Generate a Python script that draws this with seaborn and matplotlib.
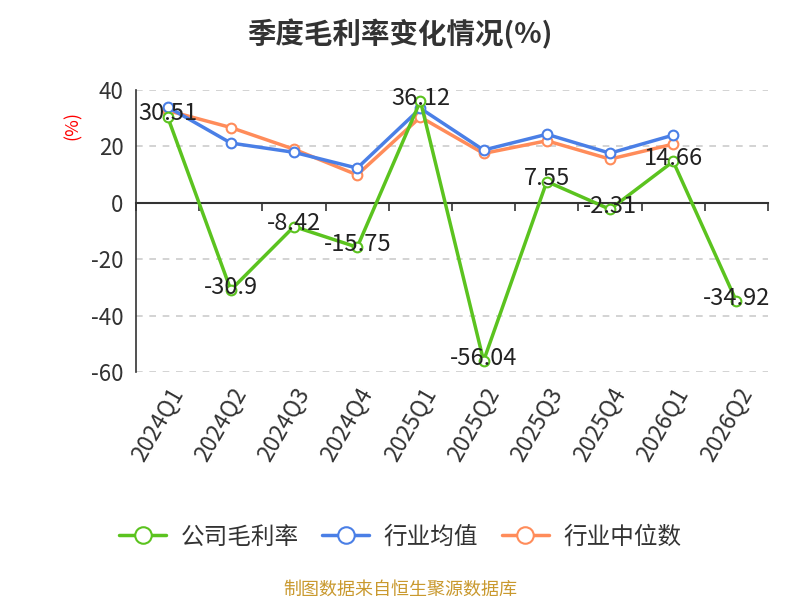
import numpy as np
import pandas as pd
import matplotlib
matplotlib.use("Agg")
import matplotlib.pyplot as plt
import seaborn as sns

# quarterly gross margin data (%)
quarters = ['2024Q1', '2024Q2', '2024Q3', '2024Q4', '2025Q1',
            '2025Q2', '2025Q3', '2025Q4', '2026Q1', '2026Q2']
company = [30.51, -30.9, -8.42, -15.75, 36.12, -56.04, 7.55, -2.31, 14.66, -34.92]
ind_mean = [34.0, 21.2, 17.9, 12.3, 33.5, 18.7, 24.3, 17.6, 24.0, np.nan]
ind_median = [32.7, 26.7, 19.0, 9.9, 30.4, 17.5, 22.0, 15.5, 20.8, np.nan]
names = ['公司毛利率', '行业均值', '行业中位数']
colors = ['#5bc31f', '#4a7fe6', '#ff8c5a']
yticks = [-60, -40, -20, 0, 20, 40]

sns.set_style("white")
plt.rcParams['font.family'] = ['Noto Sans CJK SC', 'DejaVu Sans']

fig = plt.figure(figsize=(8, 6), dpi=100)
ax = fig.add_axes([0.17, 0.38, 0.79, 0.47])

x = np.arange(len(quarters))
series = [(company, names[0], colors[0]),
          (ind_median, names[2], colors[2]),
          (ind_mean, names[1], colors[1])]
for vals, name, col in series:
    df = pd.DataFrame({'x': x, 'y': vals}).dropna()
    sns.lineplot(data=df, x='x', y='y', ax=ax, color=col, lw=2.5,
                 marker='o', markersize=7, markerfacecolor='white',
                 markeredgecolor=col, markeredgewidth=1.5, label=name,
                 zorder=3 if name == names[0] else 2)

# labels for company values
for xi, v in zip(x, company):
    ax.annotate(f"{v:g}", (xi, v), xytext=(0, 2), textcoords='offset points',
                ha='center', va='center', fontsize=17, color='#222222', zorder=5)

ax.set_xlim(-0.5, len(quarters) - 0.5)
ax.set_ylim(-60, 40)
ax.set_yticks(yticks)
ax.set_yticklabels([str(t) for t in yticks], fontsize=16, color='#333333')
ax.set_xticks(x)
ax.set_xticklabels(quarters, rotation=60, ha='right', rotation_mode='anchor',
                   fontsize=16.5, color='#333333')
ax.tick_params(axis='x', length=0, pad=8)
ax.tick_params(axis='y', length=5, width=1.2, color='#333333', pad=4)
ax.set_xlabel('')
ax.set_ylabel('')

for yt in yticks:
    if yt != 0:
        ax.axhline(yt, color='#cccccc', lw=1.2, ls=(0, (4, 4)), zorder=0)

for s in ['top', 'right', 'bottom']:
    ax.spines[s].set_visible(False)
ax.spines['left'].set_color('#333333')
ax.spines['left'].set_linewidth(1.2)

# zero axis line with ticks at category boundaries
zax = ax.secondary_xaxis(0, transform=ax.transData)
zax.set_xticks(np.arange(len(quarters) + 1) - 0.5)
zax.set_xticklabels([])
zax.tick_params(length=6, width=1.2, color='#333333', direction='out')
zax.spines['bottom'].set_color('#333333')
zax.spines['bottom'].set_linewidth(1.5)

ax.get_legend().remove()
handles, labels = ax.get_legend_handles_labels()
order = [labels.index(n) for n in names]
fig.legend([handles[i] for i in order], [labels[i] for i in order],
           loc='center', bbox_to_anchor=(0.5, 0.105), ncol=3, frameon=False,
           fontsize=17, markerscale=1.7, handlelength=2.0, columnspacing=1.0,
           handletextpad=0.6, labelcolor='#333333')

fig.suptitle('季度毛利率变化情况(%)', fontsize=20.5, fontweight='bold',
             color='#333333', y=0.968)
fig.text(0.091, 0.79, '(%)', rotation=90, color='red', fontsize=13,
         ha='center', va='center')
fig.text(0.5, 0.017, '制图数据来自恒生聚源数据库', color='#c9992e', fontsize=13,
         ha='center', va='center')

fig.savefig('out.png', dpi=100)
